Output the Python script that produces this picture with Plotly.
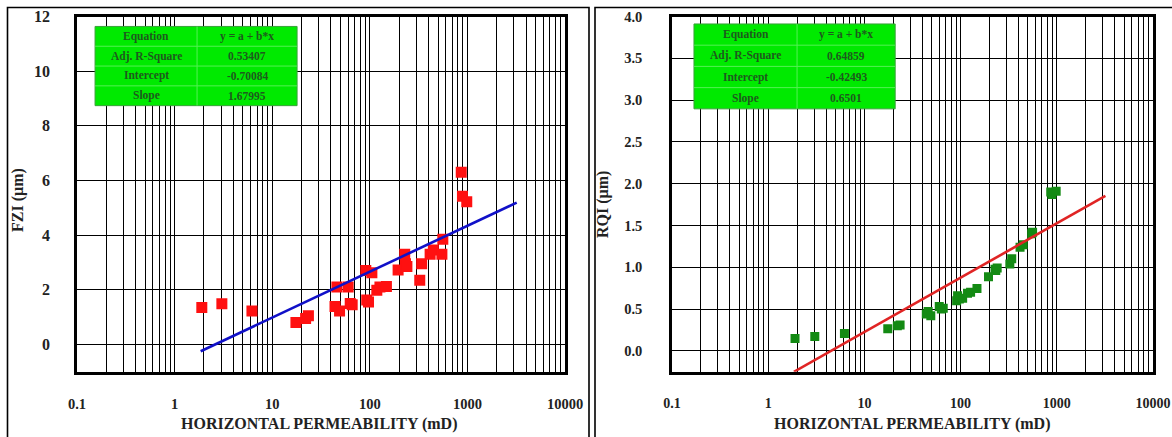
import numpy as np
import plotly.graph_objects as go

# ---- data ----
k_md = [1.9, 3.05, 6.2, 17.5, 22, 23.5, 44, 46, 49, 60, 63, 66, 91, 93, 97, 105,
        118, 127, 148, 195, 228, 232, 240, 325, 340, 415, 448, 548, 560, 865, 890, 985]
fzi_um = [1.35, 1.49, 1.22, 0.80, 0.95, 1.05, 1.39, 2.10, 1.22, 2.10, 1.50, 1.45,
          2.70, 1.62, 1.55, 2.62, 1.98, 2.10, 2.12, 2.72, 3.30, 2.95, 2.85, 2.35,
          2.95, 3.30, 3.45, 3.30, 3.85, 6.30, 5.42, 5.22]
rqi_um = [0.147, 0.17, 0.207, 0.265, 0.30, 0.31, 0.44, 0.47, 0.42, 0.53, 0.50, 0.51,
          0.60, 0.66, 0.62, 0.63, 0.69, 0.70, 0.745, 0.885, 0.975, 0.96, 0.99, 1.04,
          1.10, 1.24, 1.27, 1.40, 1.42, 1.90, 1.87, 1.91]

fzi_fit = {"Equation": "y = a + b*x", "Adj. R-Square": "0.53407",
           "Intercept": -0.70084, "Slope": 1.67995}
rqi_fit = {"Equation": "y = a + b*x", "Adj. R-Square": "0.64859",
           "Intercept": -0.42493, "Slope": 0.6501}
fit_k_range = [1.85, 3200]

x_decades = [0.1, 1, 10, 100, 1000, 10000]
x_decade_labels = ["0.1", "1", "10", "100", "1000", "10000"]
fzi_ticks = [0, 2, 4, 6, 8, 10, 12]
rqi_ticks = [0.0, 0.5, 1.0, 1.5, 2.0, 2.5, 3.0, 3.5, 4.0]

# ---- figure geometry (page body margin removed in post_script) ----
W, H = 1172, 437
SERIF = "Liberation Serif, Times New Roman, serif"

def px(x):
    return x / W

def py(y):
    return 1 - y / H

fig = go.Figure()

def fit_line(p):
    kk = np.array(fit_k_range, dtype=float)
    return kk, p["Intercept"] + p["Slope"] * np.log10(kk)

fig.add_trace(go.Scatter(x=k_md, y=fzi_um, mode="markers", xaxis="x", yaxis="y",
                         marker=dict(symbol="square", size=11, color="#ff1010"),
                         showlegend=False))
lx, ly = fit_line(fzi_fit)
fig.add_trace(go.Scatter(x=lx, y=ly, mode="lines", xaxis="x", yaxis="y",
                         line=dict(color="#1010c8", width=2.6), showlegend=False))

fig.add_trace(go.Scatter(x=k_md, y=rqi_um, mode="markers", xaxis="x2", yaxis="y2",
                         marker=dict(symbol="square", size=9, color="#138a13"),
                         showlegend=False))
lx2, ly2 = fit_line(rqi_fit)
fig.add_trace(go.Scatter(x=lx2, y=ly2, mode="lines", xaxis="x2", yaxis="y2",
                         line=dict(color="#e02424", width=2.6), showlegend=False))

# grid tick positions (all log minor lines), labels only on decades
x_grid = [m * 10.0 ** e for e in range(-1, 4) for m in range(1, 10)] + [10000]
x_text = []
for v in x_grid:
    lab = ""
    for d, t in zip(x_decades, x_decade_labels):
        if abs(v - d) < 1e-9 * max(1, d):
            lab = f"<b>{t}</b>"
    x_text.append(lab)

def tf_(s):
    return dict(family=SERIF, size=s, color="#222")

common_x = dict(type="log", range=[-1, 4], tickmode="array", tickvals=x_grid, ticktext=x_text,
                showgrid=True, gridcolor="black", gridwidth=1.3, automargin=False,
                showline=True, linecolor="black", linewidth=2.6, mirror=True,
                ticks="", ticklabelstandoff=17, zeroline=False)
common_y = dict(showgrid=True, gridcolor="black", gridwidth=1.3, automargin=False,
                showline=True, linecolor="black", linewidth=2.6, mirror=True,
                ticks="", zeroline=False, tickmode="array")

ydom = [py(371.7), py(16.5)]
fig.update_layout(
    template="none",
    width=W, height=H, margin=dict(l=0, r=0, t=0, b=0, autoexpand=False),
    paper_bgcolor="white", plot_bgcolor="white",
    xaxis=dict(domain=[px(77), px(565)], anchor="y", tickfont=tf_(14.5), **common_x),
    yaxis=dict(domain=ydom, anchor="x", range=[-1, 12], tickvals=fzi_ticks, tickfont=tf_(16),
               ticktext=[f"<b>{v}</b>" for v in fzi_ticks], ticklabelstandoff=21, **common_y),
    xaxis2=dict(domain=[px(672), px(1153)], anchor="y2", tickfont=tf_(14), **common_x),
    yaxis2=dict(domain=ydom, anchor="x2", range=[-0.25, 4.0], tickvals=rqi_ticks, tickfont=tf_(14.5),
                ticktext=[f"<b>{v:.1f}</b>" for v in rqi_ticks], ticklabelstandoff=24, **common_y),
)

shapes = []
annotations = []

# panel borders
shapes.append(dict(type="rect", xref="paper", yref="paper", x0=px(7.5), x1=px(589),
                   y0=-0.05, y1=py(7.5), line=dict(color="black", width=1.6), layer="below"))
shapes.append(dict(type="rect", xref="paper", yref="paper", x0=px(595), x1=1.05,
                   y0=-0.05, y1=py(7.5), line=dict(color="black", width=1.6), layer="below"))

# stats tables
def add_table(xa, ya, p, x0, x1, xm, y0, y1):
    xr, yr = f"{xa} domain", f"{ya} domain"
    shapes.append(dict(type="rect", xref=xr, yref=yr, x0=x0, x1=x1, y0=y0, y1=y1,
                       fillcolor="#00ea00", line=dict(color="#3aa03a", width=1), layer="above"))
    shapes.append(dict(type="line", xref=xr, yref=yr, x0=xm, x1=xm, y0=y0, y1=y1,
                       line=dict(color="#55f055", width=1), layer="above"))
    rows = ["Equation", "Adj. R-Square", "Intercept", "Slope"]
    vals = [p["Equation"], p["Adj. R-Square"], f"{p['Intercept']}", f"{p['Slope']}"]
    h = (y1 - y0) / 4
    f = dict(family=SERIF, size=11.5, color="#1e5a1e")
    for i, (r, v) in enumerate(zip(rows, vals)):
        yc = y1 - (i + 0.5) * h
        if i > 0:
            shapes.append(dict(type="line", xref=xr, yref=yr, x0=x0, x1=x1,
                               y0=y1 - i * h, y1=y1 - i * h,
                               line=dict(color="#55f055", width=1), layer="above"))
        annotations.append(dict(xref=xr, yref=yr, x=(x0 + xm) / 2, y=yc, text=f"<b>{r}</b>",
                                xanchor="center", yanchor="middle", showarrow=False, font=f))
        annotations.append(dict(xref=xr, yref=yr, x=(xm + x1) / 2, y=yc, text=f"<b>{v}</b>",
                                xanchor="center", yanchor="middle", showarrow=False, font=f))

add_table("x", "y", fzi_fit, 0.037, 0.451, 0.246, 0.749, 0.972)
add_table("x2", "y2", rqi_fit, 0.0457, 0.464, 0.26, 0.740, 0.979)

# axis titles
tf = dict(family=SERIF, size=16, color="#222")
for xc in (319, 912):
    annotations.append(dict(xref="paper", yref="paper", x=px(xc), y=py(424),
                            xanchor="center", yanchor="middle",
                            text="<b>HORIZONTAL PERMEABILITY (mD)</b>", showarrow=False, font=tf))
annotations.append(dict(xref="paper", yref="paper", x=px(18), y=py(200),
                        xanchor="center", yanchor="middle",
                        text="<b>FZI (µm)</b>", textangle=-90, showarrow=False, font=tf))
annotations.append(dict(xref="paper", yref="paper", x=px(603), y=py(205),
                        xanchor="center", yanchor="middle",
                        text="<b>RQI (µm)</b>", textangle=-90, showarrow=False, font=tf))

fig.update_layout(shapes=shapes, annotations=annotations)
fig.write_html("out.html", config={"displayModeBar": False},
               post_script="document.body.style.margin='0';document.body.style.overflow='hidden';")
